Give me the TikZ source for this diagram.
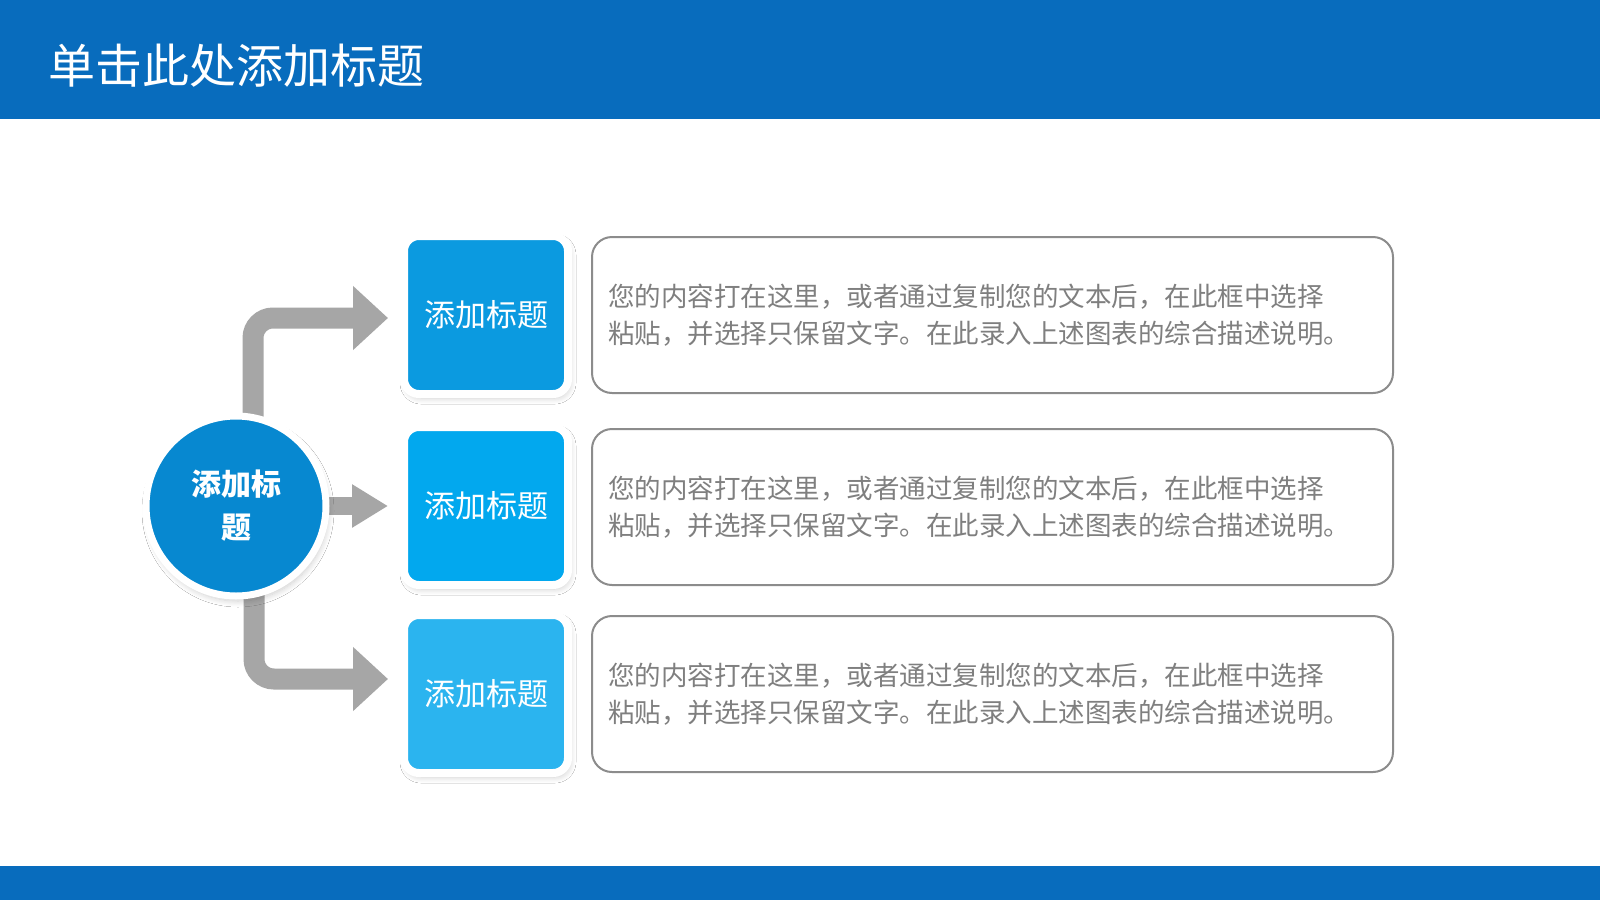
\documentclass[tikz,border=0pt]{standalone}
\usepackage{fontspec}
\newfontfamily\cjk{Noto Sans CJK SC}
\usetikzlibrary{arrows.meta,shadows.blur}
\definecolor{barblue}{HTML}{086CBD}
\definecolor{circblue}{HTML}{0788D0}
\definecolor{blueA}{HTML}{0B9AE0}
\definecolor{blueB}{HTML}{02A8EE}
\definecolor{blueC}{HTML}{2BB4EF}
\definecolor{arrowgray}{HTML}{A6A6A6}
\definecolor{bordergray}{HTML}{8C8C8C}
\definecolor{textgray}{HTML}{7F7F7F}
\tikzset{
  tbox/.style={rectangle, rounded corners=15pt, draw=white, line width=8pt,
    minimum width=164pt, minimum height=158pt, inner sep=0pt, text=white,
    font=\cjk\fontsize{31}{36}\selectfont,
    blur shadow={shadow xshift=2pt, shadow yshift=-4pt, shadow blur radius=6pt, shadow blur steps=10, shadow opacity=20}},
  circ/.style={circle, fill=circblue, draw=white, line width=7pt, minimum size=180pt,
    inner sep=0pt, text=white, align=center,
    font=\cjk\bfseries\fontsize{30}{43}\selectfont,
    blur shadow={shadow xshift=2pt, shadow yshift=-5pt, shadow blur radius=6pt, shadow blur steps=10, shadow opacity=20}},
  dbox/.style={rectangle, rounded corners=20pt, draw=bordergray, line width=2pt,
    minimum width=801pt, minimum height=156pt, text width=769pt, inner xsep=16pt,
    align=left, text=textgray, font=\cjk\fontsize{26.5}{37}\selectfont},
  garrow/.style={draw=arrowgray, line width=21pt, rounded corners=20pt,
    -{Triangle[length=35pt,width=62pt]}},
  garrowm/.style={draw=arrowgray, line width=18pt,
    -{Triangle[length=36pt,width=41pt]}},
  titletext/.style={anchor=west, inner sep=0pt, text=white, font=\cjk\fontsize{47}{50}\selectfont}
}
\begin{document}
\begin{tikzpicture}[x=1pt,y=-1pt]
\useasboundingbox (0,0) rectangle (1600,900);
\fill[white] (0,0) rectangle (1600,900);
\fill[barblue] (0,0) rectangle (1600,119);
\fill[barblue] (0,866) rectangle (1600,900);
\node[titletext] (title) at (48,66) {单击此处添加标题};

\node[tbox, fill=blueA] (b1) at (486,315) {添加标题};
\node[tbox, fill=blueB] (b2) at (486,506) {添加标题};
\node[tbox, fill=blueC] (b3) at (486,694) {添加标题};

\node[dbox] (t1) at (992.5,315) {您的内容打在这里，或者通过复制您的文本后，在此框中选择\\粘贴，并选择只保留文字。在此录入上述图表的综合描述说明。};
\node[dbox] (t2) at (992.5,507) {您的内容打在这里，或者通过复制您的文本后，在此框中选择\\粘贴，并选择只保留文字。在此录入上述图表的综合描述说明。};
\node[dbox] (t3) at (992.5,694) {您的内容打在这里，或者通过复制您的文本后，在此框中选择\\粘贴，并选择只保留文字。在此录入上述图表的综合描述说明。};

\coordinate (cc) at (236,506);
\draw[garrow] ([xshift=17pt]cc) |- ([xshift=-12pt,yshift=-3pt]b1.west);
\draw[garrow] ([xshift=18pt]cc) |- ([xshift=-12pt,yshift=15pt]b3.west);
\draw[garrowm] (cc) -- ([xshift=-12pt]b2.west);

\node[circ] (c) at (cc) {添加标\\题};
\end{tikzpicture}
\end{document}
